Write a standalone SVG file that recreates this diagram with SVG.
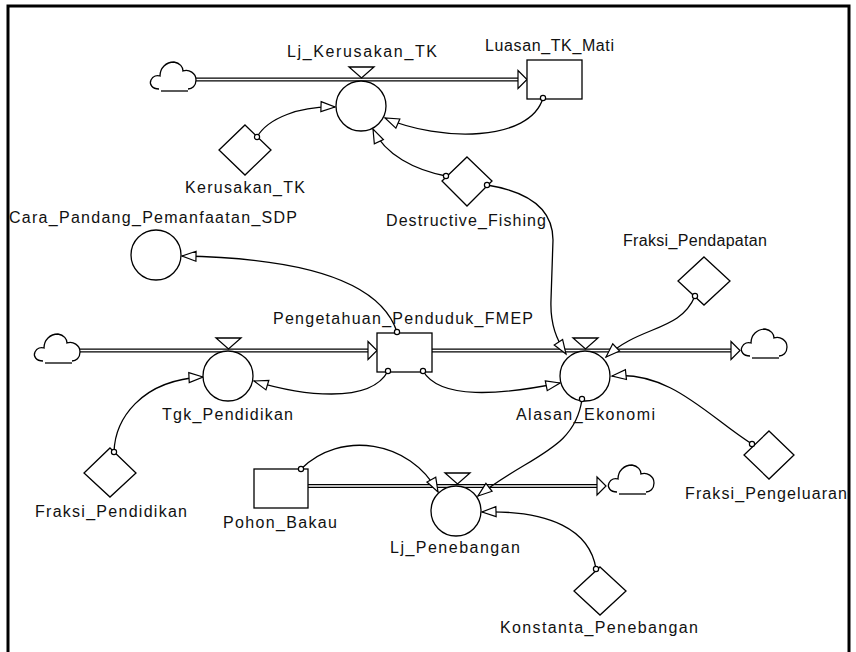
<svg xmlns="http://www.w3.org/2000/svg" width="856" height="652" viewBox="0 0 856 652">
  <style>
    .lbl { font-family: "Liberation Sans", Arial, sans-serif; font-size: 16px; fill: #111; }
    .node { fill: #fff; stroke: #000; stroke-width: 1.3; }
    .pipe-o { fill: none; stroke: #000; stroke-width: 4.2; }
    .pipe-i { fill: none; stroke: #fff; stroke-width: 1.6; }
    .head { fill: #fff; stroke: #000; stroke-width: 1.2; stroke-linejoin: miter; }
    .link { fill: none; stroke: #000; stroke-width: 1.3; marker-end: url(#arr); }
    .dot { fill: #fff; stroke: #000; stroke-width: 1.2; }
    .cloud { fill: #fff; stroke: #000; stroke-width: 1.3; }
  </style>
  <defs>
    <marker id="arr" markerUnits="userSpaceOnUse" markerWidth="16" markerHeight="12" refX="14" refY="5" orient="auto" overflow="visible">
      <path d="M0,0 L14,5 L0,10 Z" fill="#fff" stroke="#000" stroke-width="1.2"/>
    </marker>
    <!-- cloud source/sink, 48x33 box -->
    <g id="cloudShape">
      <path class="cloud" d="M10,29 C3,29 0,24 2,20 C4,16 8,15 11,16 C11,8 17,2 25,2 C31,3 34,7 34,11 C40,9 47,13 47,20 C47,26 43,29 39,29"/>
      <path d="M12,31 L39,31" stroke="#000" stroke-width="1.3" fill="none"/>
    </g>
  </defs>

  <!-- border frame -->
  <rect x="8" y="6" width="841" height="700" fill="none" stroke="#000" stroke-width="3"/>

  <!-- flow pipes -->
  <g id="flows">
    <path class="pipe-o" d="M196,79.5 H519"/>
    <path class="pipe-i" d="M196,79.5 H519"/>
    <polygon class="head" points="518,70.5 527,79.5 518,88.5"/>

    <path class="pipe-o" d="M80,350.5 H368"/>
    <path class="pipe-i" d="M80,350.5 H368"/>
    <polygon class="head" points="368,341.5 377,350.5 368,359.5"/>

    <path class="pipe-o" d="M432,350.5 H732"/>
    <path class="pipe-i" d="M432,350.5 H732"/>
    <polygon class="head" points="731,341.5 740,350.5 731,359.5"/>

    <path class="pipe-o" d="M308,486 H598"/>
    <path class="pipe-i" d="M308,486 H598"/>
    <polygon class="head" points="597,477 606,486 597,495"/>
  </g>

  <!-- clouds -->
  <g id="clouds">
    <use href="#cloudShape" x="149" y="60"/>
    <use href="#cloudShape" x="33" y="332"/>
    <use href="#cloudShape" x="740" y="327"/>
    <use href="#cloudShape" x="607" y="463"/>
  </g>

  <!-- connectors -->
  <g id="connectors">
    <path class="link" d="M257,137 C268,118 300,106 335,107"/>
    <path class="link" d="M543,98 C530,142 440,142 385,118"/>
    <path class="link" d="M446,176 C415,170 385,155 373,129"/>
    <path class="link" d="M487,185 C530,192 553,210 553,240 L551,300 C550,325 557,340 566,354"/>
    <path class="link" d="M695,296 C680,332 640,325 606,357"/>
    <path class="link" d="M752,444 C710,418 670,370 612,376"/>
    <path class="link" d="M423,371 C440,400 500,395 560,383"/>
    <path class="link" d="M397,332 C380,280 300,258 182,256"/>
    <path class="link" d="M388,371 C370,405 300,395 254,381"/>
    <path class="link" d="M114,452 C115,420 140,380 203,377"/>
    <path class="link" d="M301,469 C340,430 410,440 438,492"/>
    <path class="link" d="M582,399 C575,450 530,455 478,496"/>
    <path class="link" d="M596,569 C590,530 550,510 482,512"/>
  </g>

  <!-- stocks -->
  <g id="Luasan_TK_Mati">
    <rect class="node" x="527" y="60" width="55" height="39"/>
    <text class="lbl" x="485" y="51" textLength="129" lengthAdjust="spacing">Luasan_TK_Mati</text>
  </g>
  <g id="Pengetahuan_Penduduk_FMEP">
    <rect class="node" x="377" y="333" width="55" height="39"/>
    <text class="lbl" x="273" y="324" textLength="260" lengthAdjust="spacing">Pengetahuan_Penduduk_FMEP</text>
  </g>
  <g id="Pohon_Bakau">
    <rect class="node" x="254" y="469" width="54" height="39"/>
    <text class="lbl" x="223" y="528" textLength="114" lengthAdjust="spacing">Pohon_Bakau</text>
  </g>

  <!-- flows (valves + rate circles) -->
  <g id="Lj_Kerusakan_TK">
    <polygon class="node" points="349,67 374,67 361.5,78"/>
    <circle class="node" cx="361" cy="106" r="25"/>
    <text class="lbl" x="287" y="57" textLength="150" lengthAdjust="spacing">Lj_Kerusakan_TK</text>
  </g>
  <g id="Tgk_Pendidikan">
    <polygon class="node" points="216,338 241,338 228.5,349"/>
    <circle class="node" cx="228" cy="376" r="25"/>
    <text class="lbl" x="162" y="420" textLength="131" lengthAdjust="spacing">Tgk_Pendidikan</text>
  </g>
  <g id="Alasan_Ekonomi">
    <polygon class="node" points="573,338 598,338 585.5,349"/>
    <circle class="node" cx="585" cy="376" r="25"/>
    <text class="lbl" x="516" y="420" textLength="139" lengthAdjust="spacing">Alasan_Ekonomi</text>
  </g>
  <g id="Lj_Penebangan">
    <polygon class="node" points="445,473 470,473 457.5,484"/>
    <circle class="node" cx="456" cy="511" r="25"/>
    <text class="lbl" x="390" y="553" textLength="130" lengthAdjust="spacing">Lj_Penebangan</text>
  </g>

  <!-- auxiliaries -->
  <g id="Cara_Pandang_Pemanfaatan_SDP">
    <circle class="node" cx="156" cy="255" r="25"/>
    <text class="lbl" x="9" y="223" textLength="288" lengthAdjust="spacing">Cara_Pandang_Pemanfaatan_SDP</text>
  </g>
  <g id="Kerusakan_TK">
    <polygon class="node" points="245,125 271,150 245,175 219,150"/>
    <text class="lbl" x="185" y="193" textLength="120" lengthAdjust="spacing">Kerusakan_TK</text>
  </g>
  <g id="Destructive_Fishing">
    <polygon class="node" points="467,157 492,181 467,206 442,181"/>
    <text class="lbl" x="386" y="226" textLength="160" lengthAdjust="spacing">Destructive_Fishing</text>
  </g>
  <g id="Fraksi_Pendapatan">
    <polygon class="node" points="704,257 730,281 704,305 678,281"/>
    <text class="lbl" x="623" y="246" textLength="144" lengthAdjust="spacing">Fraksi_Pendapatan</text>
  </g>
  <g id="Fraksi_Pendidikan">
    <polygon class="node" points="110,448 136,473 110,497 84,473"/>
    <text class="lbl" x="35" y="517" textLength="152" lengthAdjust="spacing">Fraksi_Pendidikan</text>
  </g>
  <g id="Fraksi_Pengeluaran">
    <polygon class="node" points="769,431 794,455 769,479 744,455"/>
    <text class="lbl" x="685" y="499" textLength="162" lengthAdjust="spacing">Fraksi_Pengeluaran</text>
  </g>
  <g id="Konstanta_Penebangan">
    <polygon class="node" points="600,567 626,591 600,615 574,591"/>
    <text class="lbl" x="500" y="633" textLength="198" lengthAdjust="spacing">Konstanta_Penebangan</text>
  </g>

  <!-- connector source dots -->
  <g id="dots">
    <circle class="dot" cx="257" cy="137" r="2.6"/>
    <circle class="dot" cx="543" cy="98" r="2.6"/>
    <circle class="dot" cx="446" cy="176" r="2.6"/>
    <circle class="dot" cx="487" cy="185" r="2.6"/>
    <circle class="dot" cx="695" cy="296" r="2.6"/>
    <circle class="dot" cx="752" cy="444" r="2.6"/>
    <circle class="dot" cx="397" cy="332" r="2.6"/>
    <circle class="dot" cx="388" cy="371" r="2.6"/>
    <circle class="dot" cx="423" cy="371" r="2.6"/>
    <circle class="dot" cx="114" cy="452" r="2.6"/>
    <circle class="dot" cx="301" cy="469" r="2.6"/>
    <circle class="dot" cx="582" cy="399" r="2.6"/>
    <circle class="dot" cx="596" cy="569" r="2.6"/>
  </g>
</svg>
